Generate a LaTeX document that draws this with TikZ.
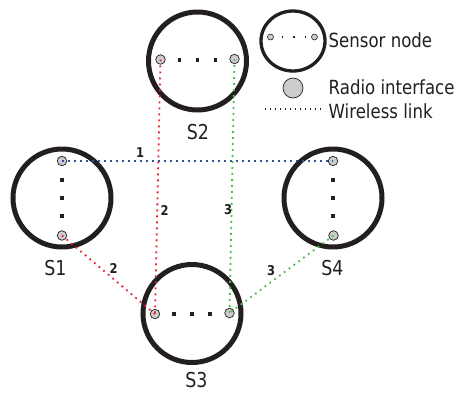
\documentclass[tikz,border=0pt]{standalone}
\usepackage{fontspec}
\setmainfont{DejaVu Sans}
\newfontfamily\legfont{DejaVu Sans}[FakeStretch=0.85]
\newfontfamily\labfont{DejaVu Sans}[FakeStretch=0.85]
\usetikzlibrary{shapes.geometric}
\definecolor{ink}{HTML}{231F20}
\definecolor{radiogray}{HTML}{CCCCCC}
\definecolor{linkred}{HTML}{E8262E}
\definecolor{linkgreen}{HTML}{4CBF4C}
\definecolor{linkblue}{HTML}{2F4FA0}
\begin{document}
\begin{tikzpicture}[x=1pt,y=-1pt,
 sensor/.style={circle, draw=ink, line width=5pt, minimum size=98pt, inner sep=0pt},
 radio/.style={circle, draw=ink, fill=radiogray, line width=0.7pt, minimum size=9.5pt, inner sep=0pt},
 dotsq/.style={rectangle, fill=ink, minimum size=3.4pt, inner sep=0pt},
 link/.style={line width=1.8pt, dash pattern=on 1.8pt off 4.2pt},
 lbl/.style={font=\labfont\fontsize{20.5}{20.5}\selectfont, text=ink, anchor=base, inner sep=0pt},
 num/.style={font=\labfont\bfseries\fontsize{13.5}{13.5}\selectfont, text=ink, inner sep=0pt},
 leg/.style={font=\legfont\fontsize{19.5}{19.5}\selectfont, text=ink, anchor=base west, inner sep=0pt},
]
\useasboundingbox (0,0) rectangle (455,392);

% sensor nodes
\node[sensor] (S1) at (62,198) {};
\node[sensor] (S2) at (197.5,61) {};
\node[sensor] (S3) at (192,313.5) {};
\node[sensor] (S4) at (333,198) {};

% inner dots
\node[dotsq] (d1a) at (62,180) {};
\node[dotsq] (d1b) at (62,198) {};
\node[dotsq] (d1c) at (62,216) {};
\node[dotsq] (d4a) at (333,180) {};
\node[dotsq] (d4b) at (333,198) {};
\node[dotsq] (d4c) at (333,216) {};
\node[dotsq] (d2a) at (179.5,60) {};
\node[dotsq] (d2b) at (197.5,60) {};
\node[dotsq] (d2c) at (215.5,60) {};
\node[dotsq] (d3a) at (174,314) {};
\node[dotsq] (d3b) at (192,314) {};
\node[dotsq] (d3c) at (210,314) {};

% radio interfaces
\node[radio] (r1a) at (62,161) {};
\node[radio] (r1b) at (62,235.5) {};
\node[radio] (r4a) at (333,161) {};
\node[radio] (r4b) at (333.5,235.5) {};
\node[radio] (r2a) at (160.5,59.5) {};
\node[radio] (r2b) at (234.5,59) {};
\node[radio] (r3a) at (155,314) {};
\node[radio] (r3b) at (229.5,313) {};

% wireless links
\draw[link, linkblue] (r1a.center) -- (r4a.center);
\draw[link, linkred] (r2a.center) -- (r3a.center);
\draw[link, linkred] (r1b.center) -- (r3a.center);
\draw[link, linkgreen] (r2b.center) -- (r3b.center);
\draw[link, linkgreen] (r4b.center) -- (r3b.center);

% link numbers
\node[num] (n1) at (140,153) {1};
\node[num] (n2a) at (164.5,210) {2};
\node[num] (n2b) at (113.5,268) {2};
\node[num] (n3a) at (228,210) {3};
\node[num] (n3b) at (271,271) {3};

% node labels
\node[lbl] (l1) at (55.5,275) {S1};
\node[lbl] (l2) at (198,139) {S2};
\node[lbl] (l3) at (196.5,387) {S3};
\node[lbl] (l4) at (332.5,275) {S4};

% legend
\node[ellipse, draw=ink, line width=3.3pt, minimum width=64pt, minimum height=60pt, inner sep=0pt] (legnode) at (293,41) {};
\node[dotsq, minimum size=1.8pt] (lgd1) at (282.5,37) {};
\node[dotsq, minimum size=1.8pt] (lgd2) at (294,37) {};
\node[dotsq, minimum size=1.8pt] (lgd3) at (305.5,37) {};
\node[radio, minimum size=6pt, line width=0.6pt] (lgra) at (270.5,37) {};
\node[radio, minimum size=6pt, line width=0.6pt] (lgrb) at (314.5,37) {};
\node[radio, minimum size=20pt] (legradio) at (293,88) {};
\coordinate (wla) at (265,109);
\coordinate (wlb) at (322,109);
\draw[ink, line width=1.3pt, dash pattern=on 1.3pt off 3.7pt] (wla) -- (wlb);

\node[leg] (t1) at (328.5,47.5) {Sensor node};
\node[leg] (t2) at (328.5,94) {Radio interface};
\node[leg] (t3) at (328.5,118) {Wireless link};
\end{tikzpicture}
\end{document}
